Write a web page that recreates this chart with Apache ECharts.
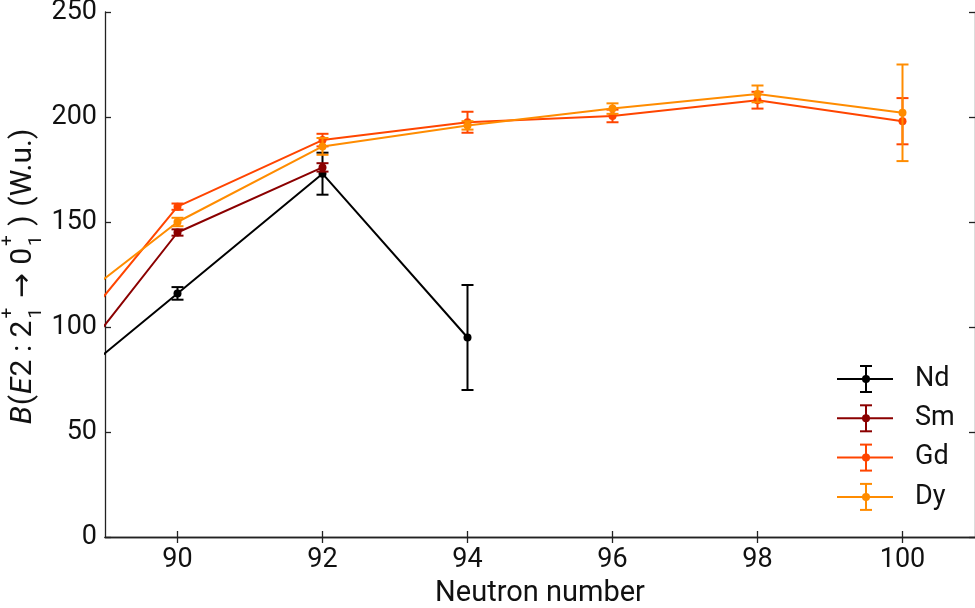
<!DOCTYPE html>
<html>
<head>
<meta charset="utf-8">
<script src="https://cdn.jsdelivr.net/npm/echarts@6/dist/echarts.min.js"></script>
<style>html,body{margin:0;padding:0;background:#fff}#c{width:975px;height:608px}</style>
</head>
<body>
<div id="c"></div>
<script>
// ---- data ----
const neutronNumbers = [88, 90, 92, 94, 96, 98, 100];
const xTicks = [90, 92, 94, 96, 98, 100];
const elements = ['Nd', 'Sm', 'Gd', 'Dy'];
const colors = ['#000000', '#8b0000', '#ff4500', '#ff8c00'];
const ndValues = [59, 116, 173, 95];
const ndErrors = [null, 3, 10, 25];
const smValues = [57, 145, 176];
const smErrors = [null, 1.5, 2];
const gdValues = [73.3, 157.3, 189, 197.5, 200.5, 208, 198];
const gdErrors = [null, 1.5, 3, 5, 3, 4, 11];
const dyValues = [96.4, 150, 186, 196, 204, 211, 202];
const dyErrors = [null, 2, 4, 2, 2.5, 4, 23];

const valueSets = [ndValues, smValues, gdValues, dyValues];
const errorSets = [ndErrors, smErrors, gdErrors, dyErrors];

const FONT = 'Roboto, "DejaVu Sans", sans-serif';
const chart = echarts.init(document.getElementById('c'));

const series = [];
elements.forEach((el, k) => {
  const vals = valueSets[k], errs = errorSets[k], col = colors[k];
  series.push({
    name: el, type: 'line', clip: true, z: 2 + k,
    data: vals.map((v, i) => [neutronNumbers[i], v]),
    symbol: 'circle', symbolSize: 8, showSymbol: true,
    itemStyle: {color: col}, lineStyle: {color: col, width: 2},
    emphasis: {disabled: true}
  });
  const ebData = [];
  vals.forEach((v, i) => { if (errs[i] != null) ebData.push([neutronNumbers[i], v - errs[i], v + errs[i]]); });
  series.push({
    name: el + ' err', type: 'custom', clip: true, z: 2 + k,
    encode: {x: 0, y: [1, 2]},
    data: ebData,
    renderItem: function (params, api) {
      const x = api.value(0);
      const p1 = api.coord([x, api.value(1)]);
      const p2 = api.coord([x, api.value(2)]);
      const w = 6;
      const st = {stroke: col, lineWidth: 2};
      return {type: 'group', children: [
        {type: 'line', shape: {x1: p1[0], y1: p1[1], x2: p2[0], y2: p2[1]}, style: st},
        {type: 'line', shape: {x1: p1[0] - w, y1: p1[1], x2: p1[0] + w, y2: p1[1]}, style: st},
        {type: 'line', shape: {x1: p2[0] - w, y1: p2[1], x2: p2[0] + w, y2: p2[1]}, style: st}
      ]};
    }
  });
});

// ---- y axis title built from pieces (stacked sub/superscripts) ----
const MAIN = 30, SMALL = 19;
const cv = document.createElement('canvas').getContext('2d');
function tw(t, size, italic) { cv.font = (italic ? 'italic ' : '') + size + 'px ' + FONT; return cv.measureText(t).width; }
const pieces = [
  {t: 'B', i: true}, {t: '('}, {t: 'E', i: true}, {t: '2 : 2'}, {s: ['+', '1']},
  {t: ' → '}, {t: '0'}, {s: ['+', '1']}, {t: ' )'}, {t: ' (W.u.)'}
];
let total = 0;
pieces.forEach(p => { p.w = p.t ? tw(p.t, MAIN, p.i) + 1 : Math.max(tw(p.s[0], SMALL), tw(p.s[1], SMALL)) + 3; total += p.w; });
const titleChildren = [];
let cx = -total / 2;
pieces.forEach(p => {
  if (p.t) {
    titleChildren.push({type: 'text', x: cx, y: 0, style: {text: p.t, font: (p.i ? 'italic ' : '') + MAIN + 'px ' + FONT, fill: '#111', verticalAlign: 'middle', align: 'left'}});
  } else {
    titleChildren.push({type: 'text', x: cx + 1, y: -15, style: {text: p.s[0], font: SMALL + 'px ' + FONT, fill: '#111', verticalAlign: 'middle', align: 'left'}});
    titleChildren.push({type: 'text', x: cx + 1, y: 13, style: {text: p.s[1], font: SMALL + 'px ' + FONT, fill: '#111', verticalAlign: 'middle', align: 'left'}});
  }
  cx += p.w;
});

// ---- legend (drawn with error-bar icons) ----
const legendChildren = [];
elements.forEach((el, k) => {
  const y = 379 + k * 39.3, col = colors[k], st = {stroke: col, lineWidth: 2};
  legendChildren.push(
    {type: 'line', shape: {x1: 837, y1: y, x2: 893, y2: y}, style: st},
    {type: 'line', shape: {x1: 866, y1: y - 13, x2: 866, y2: y + 13}, style: st},
    {type: 'line', shape: {x1: 860, y1: y - 13, x2: 872, y2: y - 13}, style: st},
    {type: 'line', shape: {x1: 860, y1: y + 13, x2: 872, y2: y + 13}, style: st},
    {type: 'circle', shape: {cx: 866, cy: y, r: 4}, style: {fill: col}},
    {type: 'text', x: 915, y: y, style: {text: el, font: '27px ' + FONT, fill: '#111', verticalAlign: 'middle'}}
  );
});

const axisLine = {show: true, lineStyle: {color: '#222', width: 1.3}};
const axisTick = {show: true, inside: true, length: 6, lineStyle: {color: '#222', width: 1.3}};

chart.setOption({
  animation: false,
  grid: {left: 105, right: 0, top: 12, bottom: 71, containLabel: false, outerBoundsMode: 'none'},
  xAxis: [
    {type: 'value', min: 89, max: 101, position: 'bottom',
     axisLine: axisLine, axisTick: Object.assign({customValues: xTicks}, axisTick),
     axisLabel: {customValues: xTicks, fontSize: 27, fontFamily: FONT, color: '#111', margin: 10},
     splitLine: {show: false},
     name: 'Neutron number', nameLocation: 'middle', nameGap: 41,
     nameTextStyle: {fontSize: 29, fontFamily: FONT, color: '#111'}},
    {type: 'value', min: 89, max: 101, position: 'top',
     axisLine: axisLine, axisTick: Object.assign({customValues: xTicks}, axisTick),
     axisLabel: {show: false}, splitLine: {show: false}}
  ],
  yAxis: [
    {type: 'value', min: 0, max: 250, interval: 50, position: 'left',
     axisLine: axisLine, axisTick: axisTick,
     axisLabel: {fontSize: 27, fontFamily: FONT, color: '#111', margin: 8},
     splitLine: {show: false}},
    {type: 'value', min: 0, max: 250, interval: 50, position: 'right',
     axisLine: axisLine, axisTick: axisTick,
     axisLabel: {show: false}, splitLine: {show: false}}
  ],
  series: series,
  graphic: [
    {type: 'group', x: 23, y: 276, rotation: Math.PI / 2, children: titleChildren},
    {type: 'group', children: legendChildren}
  ]
});
</script>
</body>
</html>
